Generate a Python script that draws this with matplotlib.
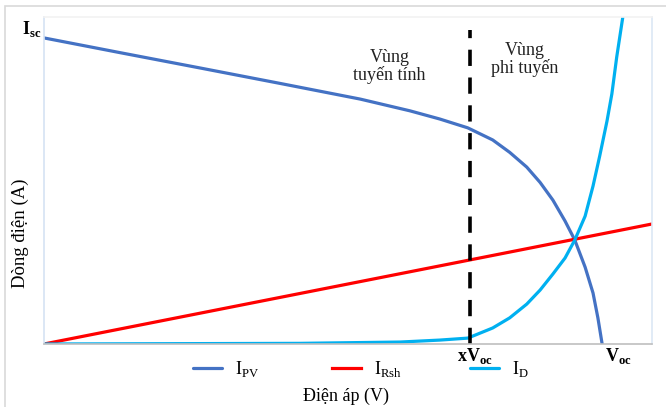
import matplotlib
matplotlib.use('Agg')
import matplotlib.pyplot as plt
from matplotlib.patches import Rectangle

plt.rcParams['font.family'] = ['Liberation Serif', 'DejaVu Serif']
plt.rcParams['mathtext.fontset'] = 'custom'
plt.rcParams['mathtext.rm'] = 'Liberation Serif'
plt.rcParams['mathtext.bf'] = 'Liberation Serif:bold'

# Datos (tension y corriente normalizadas)
v_pv = [0.000, 0.125, 0.257, 0.388, 0.520, 0.602, 0.651, 0.697, 0.738, 0.766,
        0.794, 0.816, 0.837, 0.857, 0.873, 0.890, 0.903, 0.911, 0.918]
i_pv = [0.936, 0.891, 0.844, 0.797, 0.749, 0.713, 0.688, 0.661, 0.624, 0.586,
        0.541, 0.494, 0.440, 0.376, 0.318, 0.235, 0.156, 0.080, 0.000]

v_rsh = [0.0, 1.0]
i_rsh = [0.0, 0.367]

v_d = [0.000, 0.421, 0.586, 0.651, 0.697, 0.738, 0.766, 0.794, 0.816, 0.837,
       0.857, 0.873, 0.890, 0.903, 0.914, 0.926, 0.934, 0.942, 0.952]
i_d = [0.000, 0.002, 0.006, 0.012, 0.018, 0.049, 0.080, 0.122, 0.165, 0.214,
       0.263, 0.318, 0.391, 0.483, 0.575, 0.682, 0.765, 0.878, 1.000]

x_voc = 0.70
v_oc = 0.918

fig = plt.figure(figsize=(6.66, 4.07), dpi=100)
W, H = 666, 407

# Marco gris de la figura
fig.patches.append(Rectangle((5 / W, -0.1), 1.2, 1.1 - 6 / H, transform=fig.transFigure,
                             fill=False, edgecolor='#d9d9d9', linewidth=1.2))

ax = fig.add_axes([44 / W, 1 - 344 / H, (652 - 44) / W, (344 - 17) / H])
ax.set_xlim(0, 1)
ax.set_ylim(0, 1)
ax.set_xticks([])
ax.set_yticks([])
ax.spines['left'].set_color('#d5e3f3')
ax.spines['right'].set_color('#dce7f5')
ax.spines['top'].set_color('#f2f2f2')
ax.spines['bottom'].set_color('#bfbfbf')
for s in ax.spines.values():
    s.set_linewidth(1.2)

lw = 2.3
l1, = ax.plot(v_pv, i_pv, color='#4472C4', lw=lw, label=r'I$_{\mathrm{PV}}$',
              solid_capstyle='round', solid_joinstyle='round')
l2, = ax.plot(v_rsh, i_rsh, color='#FF0000', lw=lw, label=r'I$_{\mathrm{Rsh}}$')
l3, = ax.plot(v_d, i_d, color='#00B0F0', lw=lw, label=r'I$_{\mathrm{D}}$',
              solid_capstyle='round', solid_joinstyle='round')

ax.plot([x_voc, x_voc], [0, 0.96], color='black', lw=2.6, dashes=(4.5, 3.2))

# Textos
ax.text(0.568, 0.85, 'Vùng\ntuyến tính', ha='center', va='center', fontsize=13,
        linespacing=1.0, color='#222222')
ax.text(0.790, 0.87, 'Vùng\nphi tuyến', ha='center', va='center', fontsize=13,
        linespacing=1.0, color='#222222')

fig.text(41 / W, 1 - 29 / H, r'$\mathbf{I}_{\mathbf{sc}}$', ha='right', va='center', fontsize=13)
ax.text(x_voc + 0.008, -0.005, r'$\mathbf{xV}_{\mathbf{oc}}$', ha='center', va='top', fontsize=13)
ax.text(v_oc + 0.004, -0.005, r'$\mathbf{V}_{\mathbf{oc}}$', ha='left', va='top', fontsize=13)

fig.text(346 / W, 1 - 396 / H, 'Điện áp (V)', ha='center', va='center', fontsize=13)
fig.text(20 / W, 1 - 233 / H, 'Dòng điện (A)', ha='center', va='center', fontsize=13.5,
         rotation=90)

# Leyenda con columnas de igual ancho
for line, x0 in zip([l1, l2, l3], [193, 332, 470]):
    fig.legend(handles=[line], loc='center left', bbox_to_anchor=(x0 / W, 1 - 369 / H),
               frameon=False, fontsize=13, handlelength=1.6, handletextpad=0.7,
               borderpad=0, borderaxespad=0)

plt.savefig('out.png', dpi=100)
